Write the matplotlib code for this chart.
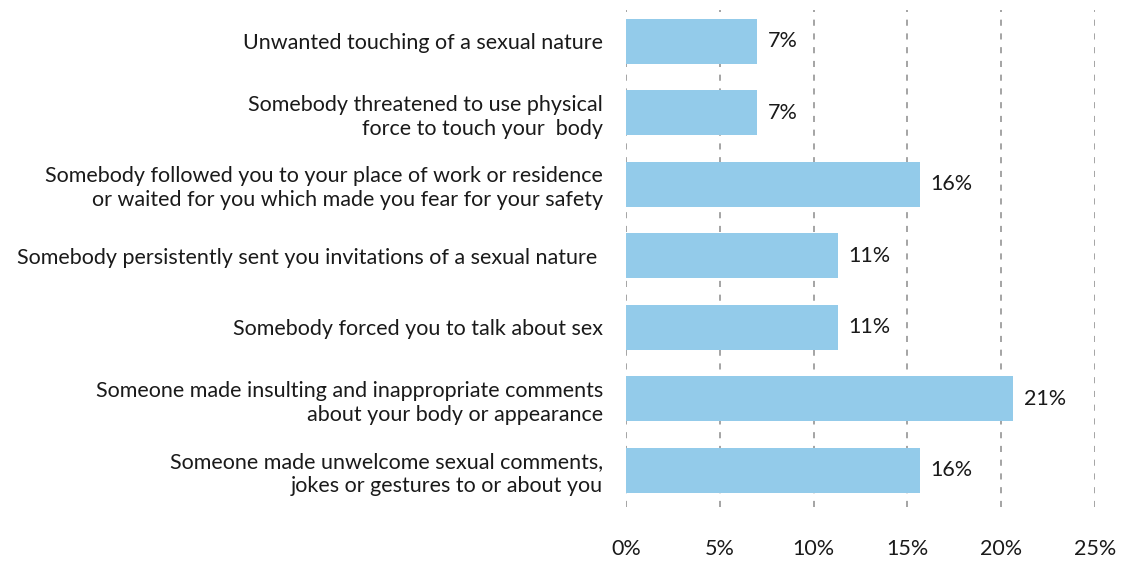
import matplotlib
matplotlib.use("Agg")
import matplotlib.pyplot as plt

categories = [
    "Unwanted touching of a sexual nature",
    "Somebody threatened to use physical\nforce to touch your  body",
    "Somebody followed you to your place of work or residence\nor waited for you which made you fear for your safety",
    "Somebody persistently sent you invitations of a sexual nature ",
    "Somebody forced you to talk about sex",
    "Someone made insulting and inappropriate comments\nabout your body or appearance",
    "Someone made unwelcome sexual comments,\njokes or gestures to or about you",
]
values = [7.0, 7.0, 15.66, 11.3, 11.3, 20.66, 15.66]
value_labels = ["7%", "7%", "16%", "11%", "11%", "21%", "16%"]
xticks = [0, 5, 10, 15, 20, 25]
xtick_labels = ["0%", "5%", "10%", "15%", "20%", "25%"]

plt.rcParams['font.family'] = ['Lato', 'DejaVu Sans']

fig = plt.figure(figsize=(11.41, 5.63), dpi=100)
ax = fig.add_axes([0.5487, 0.0995, 0.9594 - 0.5487, 0.9822 - 0.0995])

ypos = list(range(len(categories)))
ax.barh(ypos, values, height=0.625, color="#93CBEA", zorder=2)
for y, v, lab in zip(ypos, values, value_labels):
    ax.text(v + 0.55, y, lab, va="center", ha="left", fontsize=15.5, color="#1a1a1a")

ax.set_xlim(0, 25)
ax.set_ylim(6.513, -0.438)
ax.set_xticks(xticks)
ax.set_xticklabels(xtick_labels, fontsize=15.5, color="#1a1a1a")
ax.set_yticks(ypos)
ax.set_yticklabels(categories, fontsize=15.5, color="#1a1a1a", linespacing=1.24)
ax.tick_params(axis="x", length=0, pad=23)
ax.tick_params(axis="y", length=0, pad=16.5)
for s in ax.spines.values():
    s.set_visible(False)
for x in xticks:
    ax.axvline(x, color="#8c8c8c", linewidth=1.1, linestyle=(0, (4, 5)), zorder=1)

fig.savefig("out.png", dpi=100)
